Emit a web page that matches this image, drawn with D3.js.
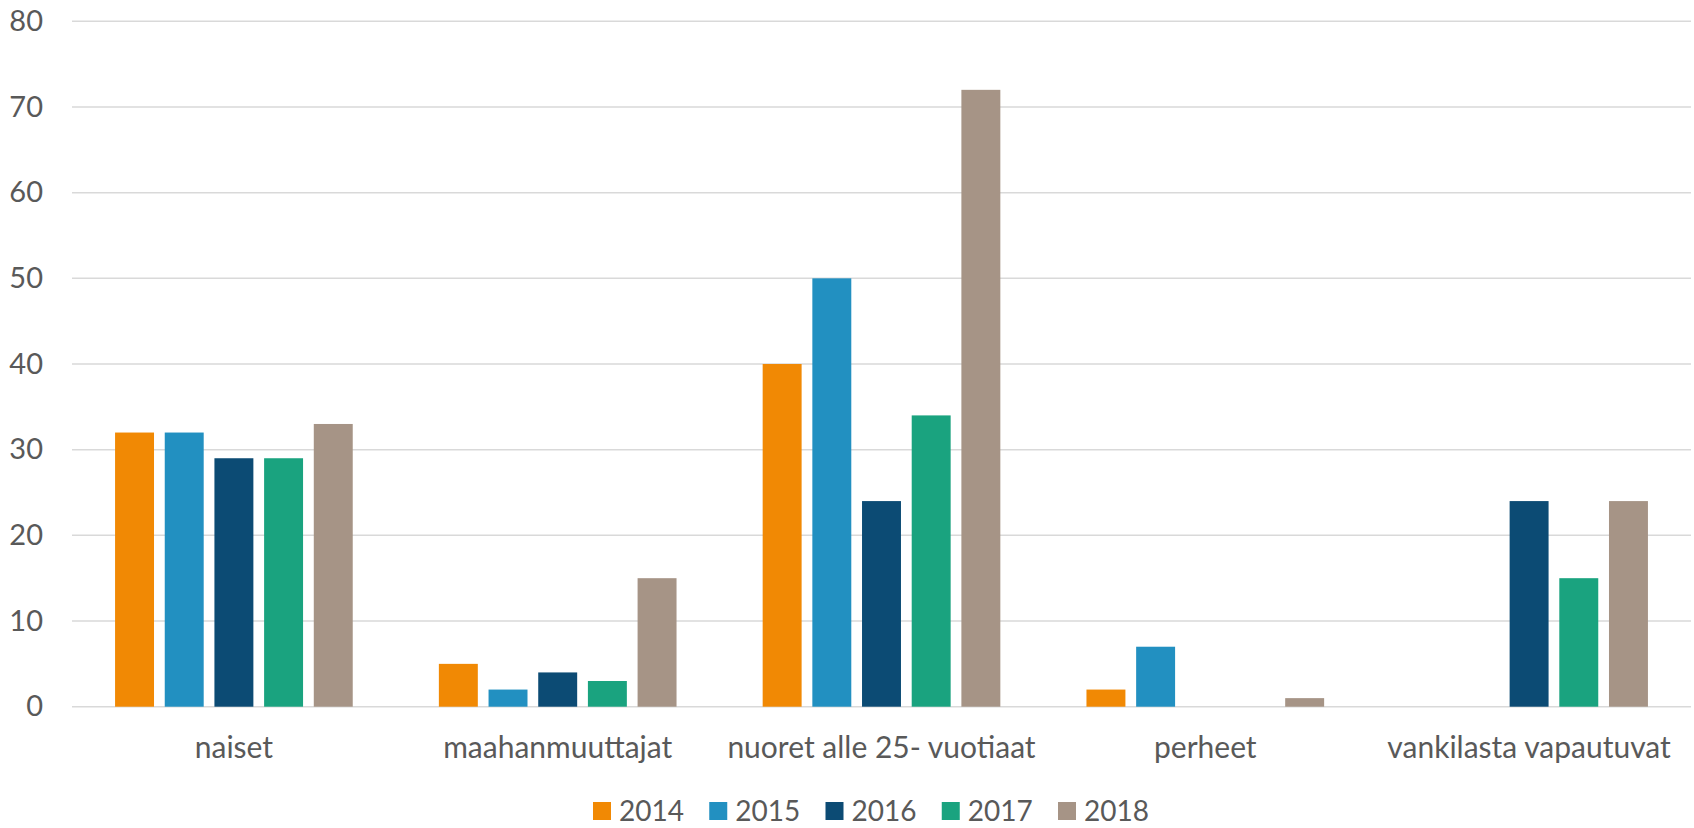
<!DOCTYPE html>
<html><head><meta charset="utf-8">
<script src="https://cdn.jsdelivr.net/npm/d3@7"></script>
<style>html,body{margin:0;padding:0;background:#fff;}svg{display:block;}</style>
</head><body>
<svg id="chart" width="1694" height="828"></svg>
<script>
const categories = ["naiset", "maahanmuuttajat", "nuoret alle 25- vuotiaat", "perheet", "vankilasta vapautuvat"];
const years = ["2014", "2015", "2016", "2017", "2018"];
const v2014 = [32, 5, 40, 2, 0];
const v2015 = [32, 2, 50, 7, 0];
const v2016 = [29, 4, 24, 0, 24];
const v2017 = [29, 3, 34, 0, 15];
const v2018 = [33, 15, 72, 1, 24];
const yTicks = [0, 10, 20, 30, 40, 50, 60, 70, 80];
const colors = ["#F18904", "#2290C1", "#0C4B74", "#1AA37F", "#A69486"];

const seriesValues = [v2014, v2015, v2016, v2017, v2018];
const font = "Lato, 'Open Sans', sans-serif";
const textColor = "#595959";

const svg = d3.select("#chart");
const mLeft = 72, mRight = 1691, mTop = 21.3, mBottom = 706.7;

const x0 = d3.scaleBand().domain(categories).range([mLeft, mRight]).padding(0);
const outer = x0.bandwidth() * 0.133;
const x1 = d3.scaleBand().domain(years).range([outer, x0.bandwidth() - outer]).paddingInner(0.216).paddingOuter(0);
const y = d3.scaleLinear().domain([0, 80]).range([mBottom, mTop]);
const color = d3.scaleOrdinal().domain(years).range(colors);

// gridlines
svg.append("g").selectAll("line").data(yTicks).join("line")
  .attr("x1", mLeft).attr("x2", mRight)
  .attr("y1", d => y(d)).attr("y2", d => y(d))
  .attr("stroke", "#d9d9d9").attr("stroke-width", 1.5);

// y axis labels
const yAxis = d3.axisLeft(y).tickValues(yTicks).tickSize(0).tickPadding(0);
const yg = svg.append("g").attr("transform", `translate(43,0)`).call(yAxis);
yg.select(".domain").remove();
yg.selectAll("text").attr("fill", textColor).style("font-family", font).style("font-size", "29px");

// bars
const groups = svg.append("g").selectAll("g").data(categories).join("g")
  .attr("transform", d => `translate(${x0(d)},0)`);
groups.selectAll("rect")
  .data((c, i) => years.map((yr, j) => ({yr, v: seriesValues[j][i]})).filter(d => d.v > 0))
  .join("rect")
  .attr("x", d => x1(d.yr))
  .attr("width", x1.bandwidth())
  .attr("y", d => y(d.v))
  .attr("height", d => y(0) - y(d.v))
  .attr("fill", d => color(d.yr));

// x axis labels
const xAxis = d3.axisBottom(x0).tickSize(0).tickPadding(0);
const xg = svg.append("g").attr("transform", `translate(0,${mBottom})`).call(xAxis);
xg.select(".domain").remove();
xg.selectAll("text").attr("fill", textColor).style("font-family", font).style("font-size", "30px")
  .attr("dy", null).attr("y", 51);

// legend
const legend = svg.append("g");
const lx = d3.scalePoint().domain(years).range([593, 1058]);
const items = legend.selectAll("g").data(years).join("g")
  .attr("transform", d => `translate(${lx(d)},802)`);
items.append("rect").attr("width", 18).attr("height", 18).attr("fill", d => color(d));
items.append("text").attr("x", 26).attr("y", 19).text(d => d)
  .attr("fill", textColor).style("font-family", font).style("font-size", "28px");
</script>
</body></html>
